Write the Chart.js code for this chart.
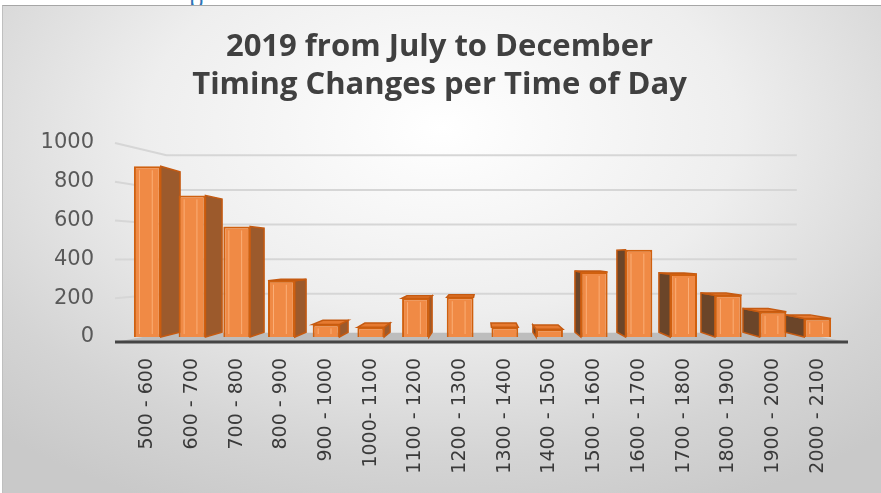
<!DOCTYPE html>
<html>
<head>
<meta charset="utf-8">
<title>Timing Changes per Time of Day</title>
<script src="https://cdn.jsdelivr.net/npm/chart.js@4"></script>
<style>
  html, body { margin: 0; padding: 0; background: #ffffff; }
  body { width: 881px; height: 493px; position: relative; overflow: hidden; }
  #tag { position: absolute; left: 189px; top: -18px; font: 24px "Open Sans", sans-serif; color: #2e75b6; }
  #box {
    position: absolute; left: 2px; top: 5px; width: 879px; height: 488px;
    border-top: 1px solid #a6a6a6; border-left: 1px solid #bfbfbf; box-sizing: border-box;
    background: radial-gradient(ellipse 75% 85% at 50% 25%, #ffffff 0%, #eeeeee 45%, #d4d4d4 80%, #c9c9c9 100%);
  }
  #wrap { position: absolute; left: 0; top: 0; width: 878px; height: 487px; }
</style>
</head>
<body>
<div id="tag">p</div>
<div id="box"><div id="wrap"><canvas id="timingChart"></canvas></div></div>

<script>
// valeurs
const categories = ['500 - 600', '600 - 700', '700 - 800', '800 - 900', '900 - 1000', '1000- 1100',
  '1100 - 1200', '1200 - 1300', '1300 - 1400', '1400 - 1500', '1500 - 1600', '1600 - 1700',
  '1700 - 1800', '1800 - 1900', '1900 - 2000', '2000 - 2100'];
const changes = [880, 730, 570, 290, 65, 50, 200, 205, 50, 40, 335, 450, 325, 215, 130, 95];
const yTicks = [0, 200, 400, 600, 800, 1000];
const titleLines = ['2019 from July to December', 'Timing Changes per Time of Day'];

// petit effet 3D façon Excel : murs, sol, faces latérales des barres
const fake3d = {
  id: 'fake3d',
  beforeDatasetsDraw(chart) {
    const { ctx, chartArea: a, scales: { y } } = chart;
    const vp = { x: (a.left + a.right) / 2, y: a.top + 114 };
    const wall = (x, yy) => [vp.x + (x - vp.x) * 0.86, vp.y + (yy - vp.y) * 0.892];
    const fl = a.left - 10, fr = a.right + 8, fb = y.getPixelForValue(0) + 5;

    ctx.save();
    // lignes de quadrillage (mur gauche + mur du fond)
    ctx.strokeStyle = '#d6d6d6';
    ctx.lineWidth = 2;
    yTicks.slice(1).forEach(v => {
      const py = y.getPixelForValue(v);
      const b1 = wall(fl, py), b2 = wall(fr, py);
      ctx.beginPath();
      ctx.moveTo(fl, py);
      ctx.lineTo(b1[0], b1[1]);
      ctx.lineTo(b2[0], b2[1]);
      ctx.stroke();
    });
    // sol
    const bl = wall(fl, fb), br = wall(fr, fb);
    ctx.fillStyle = '#bdbdbd';
    ctx.beginPath();
    ctx.moveTo(fl, fb);
    ctx.lineTo(bl[0], bl[1]);
    ctx.lineTo(br[0], br[1]);
    ctx.lineTo(fr, fb);
    ctx.closePath();
    ctx.fill();

    // faces latérales et dessus des barres
    const meta = chart.getDatasetMeta(0);
    const back = (x, yy) => [vp.x + (x - vp.x) * 0.94, vp.y + (yy - vp.y) * 0.94];
    ctx.lineWidth = 1.5;
    ctx.strokeStyle = '#c55a11';
    meta.data.forEach(bar => {
      const p = bar.getProps(['x', 'y', 'base', 'width'], true);
      const l = p.x - p.width / 2, r = p.x + p.width / 2, t = p.y, b = p.base;
      const poly = (pts, fill) => {
        ctx.fillStyle = fill;
        ctx.beginPath();
        ctx.moveTo(pts[0][0], pts[0][1]);
        pts.slice(1).forEach(q => ctx.lineTo(q[0], q[1]));
        ctx.closePath();
        ctx.fill();
        ctx.stroke();
      };
      // pas de face latérale quand elle serait presque invisible
      if (r < vp.x - 30) {
        poly([[r, t], back(r, t), back(r, b), [r, b]], '#9c5a2c');
      } else if (l > vp.x + 30) {
        poly([[l, t], back(l, t), back(l, b), [l, b]], '#6b4529');
      }
      if (t > vp.y) {
        poly([[l, t], back(l, t), back(r, t), [r, t]], '#e67a30');
      }
    });
    // ligne de l'axe des x
    ctx.strokeStyle = '#454545';
    ctx.lineWidth = 3;
    ctx.beginPath();
    ctx.moveTo(fl, fb);
    ctx.lineTo(fr, fb);
    ctx.stroke();
    ctx.restore();
  },
  afterDatasetsDraw(chart) {
    // reflet clair à l'intérieur de la face avant
    const { ctx } = chart;
    ctx.save();
    ctx.strokeStyle = 'rgba(255, 190, 140, 0.7)';
    ctx.lineWidth = 1;
    chart.getDatasetMeta(0).data.forEach(bar => {
      const p = bar.getProps(['x', 'y', 'base', 'width'], true);
      const l = p.x - p.width / 2, r = p.x + p.width / 2;
      if (p.base - p.y < 10) return;
      ctx.beginPath();
      ctx.moveTo(l + 5.5, p.y + 4);
      ctx.lineTo(l + 5.5, p.base - 3);
      ctx.moveTo(r - 8.5, p.y + 4);
      ctx.lineTo(r - 8.5, p.base - 3);
      ctx.stroke();
    });
    ctx.restore();
  }
};

const ctx = document.getElementById('timingChart').getContext('2d');
const timingChart = new Chart(ctx, {
  type: 'bar',
  data: {
    labels: categories,
    datasets: [{
      label: 'Timing changes',
      data: changes,
      backgroundColor: '#f08a45',
      borderColor: '#d0600f',
      borderWidth: 2,
      categoryPercentage: 1,
      barPercentage: 0.6
    }]
  },
  options: {
    responsive: true,
    maintainAspectRatio: false,
    animation: false,
    layout: { padding: { left: 36, right: 41, top: 0, bottom: 1 } },
    plugins: {
      legend: { display: false },
      tooltip: { enabled: false },
      title: {
        display: true,
        text: titleLines,
        color: '#404040',
        font: { family: 'Open Sans', size: 31, weight: 'bold', lineHeight: '38px' },
        padding: { top: 22, bottom: 39 }
      }
    },
    scales: {
      x: {
        afterFit(scale) { scale.height = 155; },
        grid: { display: false, drawTicks: false },
        border: { display: false },
        ticks: {
          autoSkip: false,
          minRotation: 90,
          maxRotation: 90,
          padding: 21,
          color: '#3a3a3a',
          font: { family: 'DejaVu Sans', size: 19 }
        }
      },
      y: {
        min: 0,
        max: 1000,
        afterFit(scale) { scale.width = 86; },
        afterBuildTicks(scale) { scale.ticks = yTicks.map(v => ({ value: v })); },
        grid: { display: false, drawTicks: false },
        border: { display: false },
        ticks: {
          padding: 31,
          color: '#595959',
          font: { family: 'DejaVu Sans', size: 21 },
          callback: v => String(v)
        }
      }
    }
  },
  plugins: [fake3d]
});
</script>
</body>
</html>
